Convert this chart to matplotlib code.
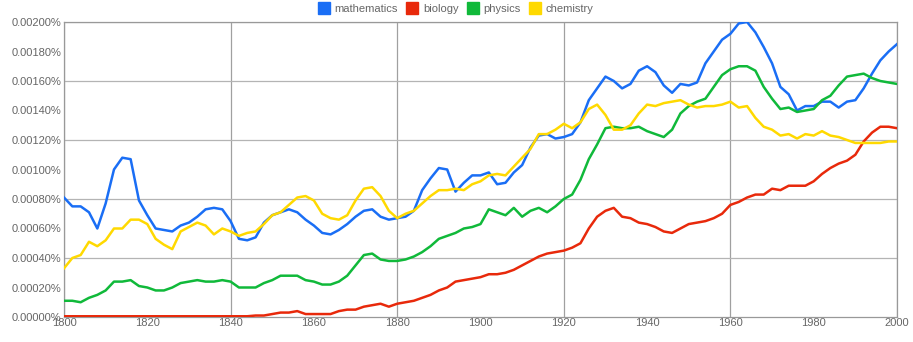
import numpy as np
import matplotlib.pyplot as plt
from matplotlib.lines import Line2D
from matplotlib.ticker import FuncFormatter, MultipleLocator

plt.rcParams["font.family"] = ["Liberation Sans", "DejaVu Sans"]

# ---------------------------------------------------------------
# Word frequencies (percent of all words), one value every 2 years
# ---------------------------------------------------------------

years = np.arange(1800, 2001, 2)

mathematics = [
    0.00081, 0.00075, 0.00075, 0.00071, 0.00060,
    0.00077, 0.00100, 0.00108, 0.00107, 0.00079,
    0.00069, 0.00060, 0.00059, 0.00058, 0.00062,
    0.00064, 0.00068, 0.00073, 0.00074, 0.00073,
    0.00065, 0.00053, 0.00052, 0.00054, 0.00064,
    0.00069, 0.00071, 0.00073, 0.00071, 0.00066,
    0.00062, 0.00057, 0.00056, 0.00059, 0.00063,
    0.00068, 0.00072, 0.00073, 0.00068, 0.00066,
    0.00067, 0.00068, 0.00072, 0.00086, 0.00094,
    0.00101, 0.00100, 0.00085, 0.00091, 0.00096,
    0.00096, 0.00098, 0.00090, 0.00091, 0.00098,
    0.00103, 0.00115, 0.00123, 0.00124, 0.00121,
    0.00122, 0.00124, 0.00132, 0.00147, 0.00155,
    0.00163, 0.00160, 0.00155, 0.00158, 0.00167,
    0.00170, 0.00166, 0.00157, 0.00152, 0.00158,
    0.00157, 0.00159, 0.00172, 0.00180, 0.00188,
    0.00192, 0.00199, 0.00200, 0.00193, 0.00183,
    0.00172, 0.00156, 0.00151, 0.00140, 0.00143,
    0.00143, 0.00146, 0.00146, 0.00142, 0.00146,
    0.00147, 0.00155, 0.00165, 0.00174, 0.00180,
    0.00185,
]

biology = [
    0.000005, 0.000005, 0.000005, 0.000005, 0.000005,
    0.000005, 0.000005, 0.000005, 0.000005, 0.000005,
    0.000005, 0.000005, 0.000005, 0.000005, 0.000005,
    0.000005, 0.000005, 0.000005, 0.000005, 0.000005,
    0.000005, 0.000005, 0.000005, 0.00001, 0.00001,
    0.00002, 0.00003, 0.00003, 0.00004, 0.00002,
    0.00002, 0.00002, 0.00002, 0.00004, 0.00005,
    0.00005, 0.00007, 0.00008, 0.00009, 0.00007,
    0.00009, 0.00010, 0.00011, 0.00013, 0.00015,
    0.00018, 0.00020, 0.00024, 0.00025, 0.00026,
    0.00027, 0.00029, 0.00029, 0.00030, 0.00032,
    0.00035, 0.00038, 0.00041, 0.00043, 0.00044,
    0.00045, 0.00047, 0.00050, 0.00060, 0.00068,
    0.00072, 0.00074, 0.00068, 0.00067, 0.00064,
    0.00063, 0.00061, 0.00058, 0.00057, 0.00060,
    0.00063, 0.00064, 0.00065, 0.00067, 0.00070,
    0.00076, 0.00078, 0.00081, 0.00083, 0.00083,
    0.00087, 0.00086, 0.00089, 0.00089, 0.00089,
    0.00092, 0.00097, 0.00101, 0.00104, 0.00106,
    0.00110, 0.00119, 0.00125, 0.00129, 0.00129,
    0.00128,
]

physics = [
    0.00011, 0.00011, 0.00010, 0.00013, 0.00015,
    0.00018, 0.00024, 0.00024, 0.00025, 0.00021,
    0.00020, 0.00018, 0.00018, 0.00020, 0.00023,
    0.00024, 0.00025, 0.00024, 0.00024, 0.00025,
    0.00024, 0.00020, 0.00020, 0.00020, 0.00023,
    0.00025, 0.00028, 0.00028, 0.00028, 0.00025,
    0.00024, 0.00022, 0.00022, 0.00024, 0.00028,
    0.00035, 0.00042, 0.00043, 0.00039, 0.00038,
    0.00038, 0.00039, 0.00041, 0.00044, 0.00048,
    0.00053, 0.00055, 0.00057, 0.00060, 0.00061,
    0.00063, 0.00073, 0.00071, 0.00069, 0.00074,
    0.00068, 0.00072, 0.00074, 0.00071, 0.00075,
    0.00080, 0.00083, 0.00093, 0.00107, 0.00117,
    0.00128, 0.00129, 0.00128, 0.00128, 0.00129,
    0.00126, 0.00124, 0.00122, 0.00127, 0.00138,
    0.00143, 0.00146, 0.00148, 0.00156, 0.00164,
    0.00168, 0.00170, 0.00170, 0.00167, 0.00156,
    0.00148, 0.00141, 0.00142, 0.00139, 0.00140,
    0.00141, 0.00147, 0.00150, 0.00157, 0.00163,
    0.00164, 0.00165, 0.00162, 0.00160, 0.00159,
    0.00158,
]

chemistry = [
    0.00033, 0.00040, 0.00042, 0.00051, 0.00048,
    0.00052, 0.00060, 0.00060, 0.00066, 0.00066,
    0.00063, 0.00053, 0.00049, 0.00046, 0.00058,
    0.00061, 0.00064, 0.00062, 0.00056, 0.00060,
    0.00058, 0.00055, 0.00057, 0.00058, 0.00063,
    0.00069, 0.00071, 0.00076, 0.00081, 0.00082,
    0.00079, 0.00070, 0.00067, 0.00066, 0.00069,
    0.00079, 0.00087, 0.00088, 0.00082, 0.00072,
    0.00067, 0.00070, 0.00072, 0.00077, 0.00082,
    0.00086, 0.00086, 0.00087, 0.00086, 0.00090,
    0.00092, 0.00096, 0.00097, 0.00096, 0.00102,
    0.00108, 0.00114, 0.00124, 0.00124, 0.00127,
    0.00131, 0.00128, 0.00132, 0.00141, 0.00144,
    0.00137, 0.00127, 0.00127, 0.00130, 0.00138,
    0.00144, 0.00143, 0.00145, 0.00146, 0.00147,
    0.00144, 0.00142, 0.00143, 0.00143, 0.00144,
    0.00146, 0.00142, 0.00143, 0.00135, 0.00129,
    0.00127, 0.00123, 0.00124, 0.00121, 0.00124,
    0.00123, 0.00126, 0.00123, 0.00122, 0.00120,
    0.00118, 0.00118, 0.00118, 0.00118, 0.00119,
    0.00119,
]

series_names = ["mathematics", "biology", "physics", "chemistry"]
series_values = [mathematics, biology, physics, chemistry]
series_colors = ["#1a6ef5", "#e8290b", "#10b93a", "#ffd900"]

# ---------------------------------------------------------------
# Figure
# ---------------------------------------------------------------

figure = plt.figure(figsize=(9.13, 3.42), dpi=100)
axis = figure.add_axes([64 / 913, 25 / 342, 833 / 913, 295 / 342])

for year in range(1800, 2001, 40):
    axis.axvline(year, color="#a0a0a0", linewidth=0.9, zorder=1)
for level in np.arange(0.0004, 0.00201, 0.0004):
    axis.axhline(level, color="#b4b4b4", linewidth=0.9, zorder=1)

for name, values, color in zip(series_names, series_values, series_colors):
    axis.plot(years, values, color=color, linewidth=1.8,
              solid_joinstyle="round", label=name, zorder=3)

axis.set_xlim(1800, 2000)
axis.set_ylim(0, 0.002)
axis.xaxis.set_major_locator(MultipleLocator(20))
axis.yaxis.set_major_locator(MultipleLocator(0.0002))
axis.yaxis.set_major_formatter(FuncFormatter(lambda v, _: f"{v:.5f}%"))

axis.tick_params(length=0, labelsize=8, labelcolor="#666666", pad=2)
axis.tick_params(axis="x", pad=1)

for spine in axis.spines.values():
    spine.set_color("#999999")
    spine.set_linewidth(0.9)

handles = [
    Line2D([], [], marker="s", linestyle="", markersize=9.2,
           markerfacecolor=color, markeredgecolor=color)
    for color in series_colors
]
figure.legend(
    handles, series_names,
    loc="center", bbox_to_anchor=(456 / 913, 1 - 9 / 342),
    ncol=4, frameon=False, fontsize=8, labelcolor="#666666",
    handlelength=1.0, handletextpad=0.45, columnspacing=0.8,
    borderaxespad=0, borderpad=0,
)

figure.savefig("out.png", dpi=100)
